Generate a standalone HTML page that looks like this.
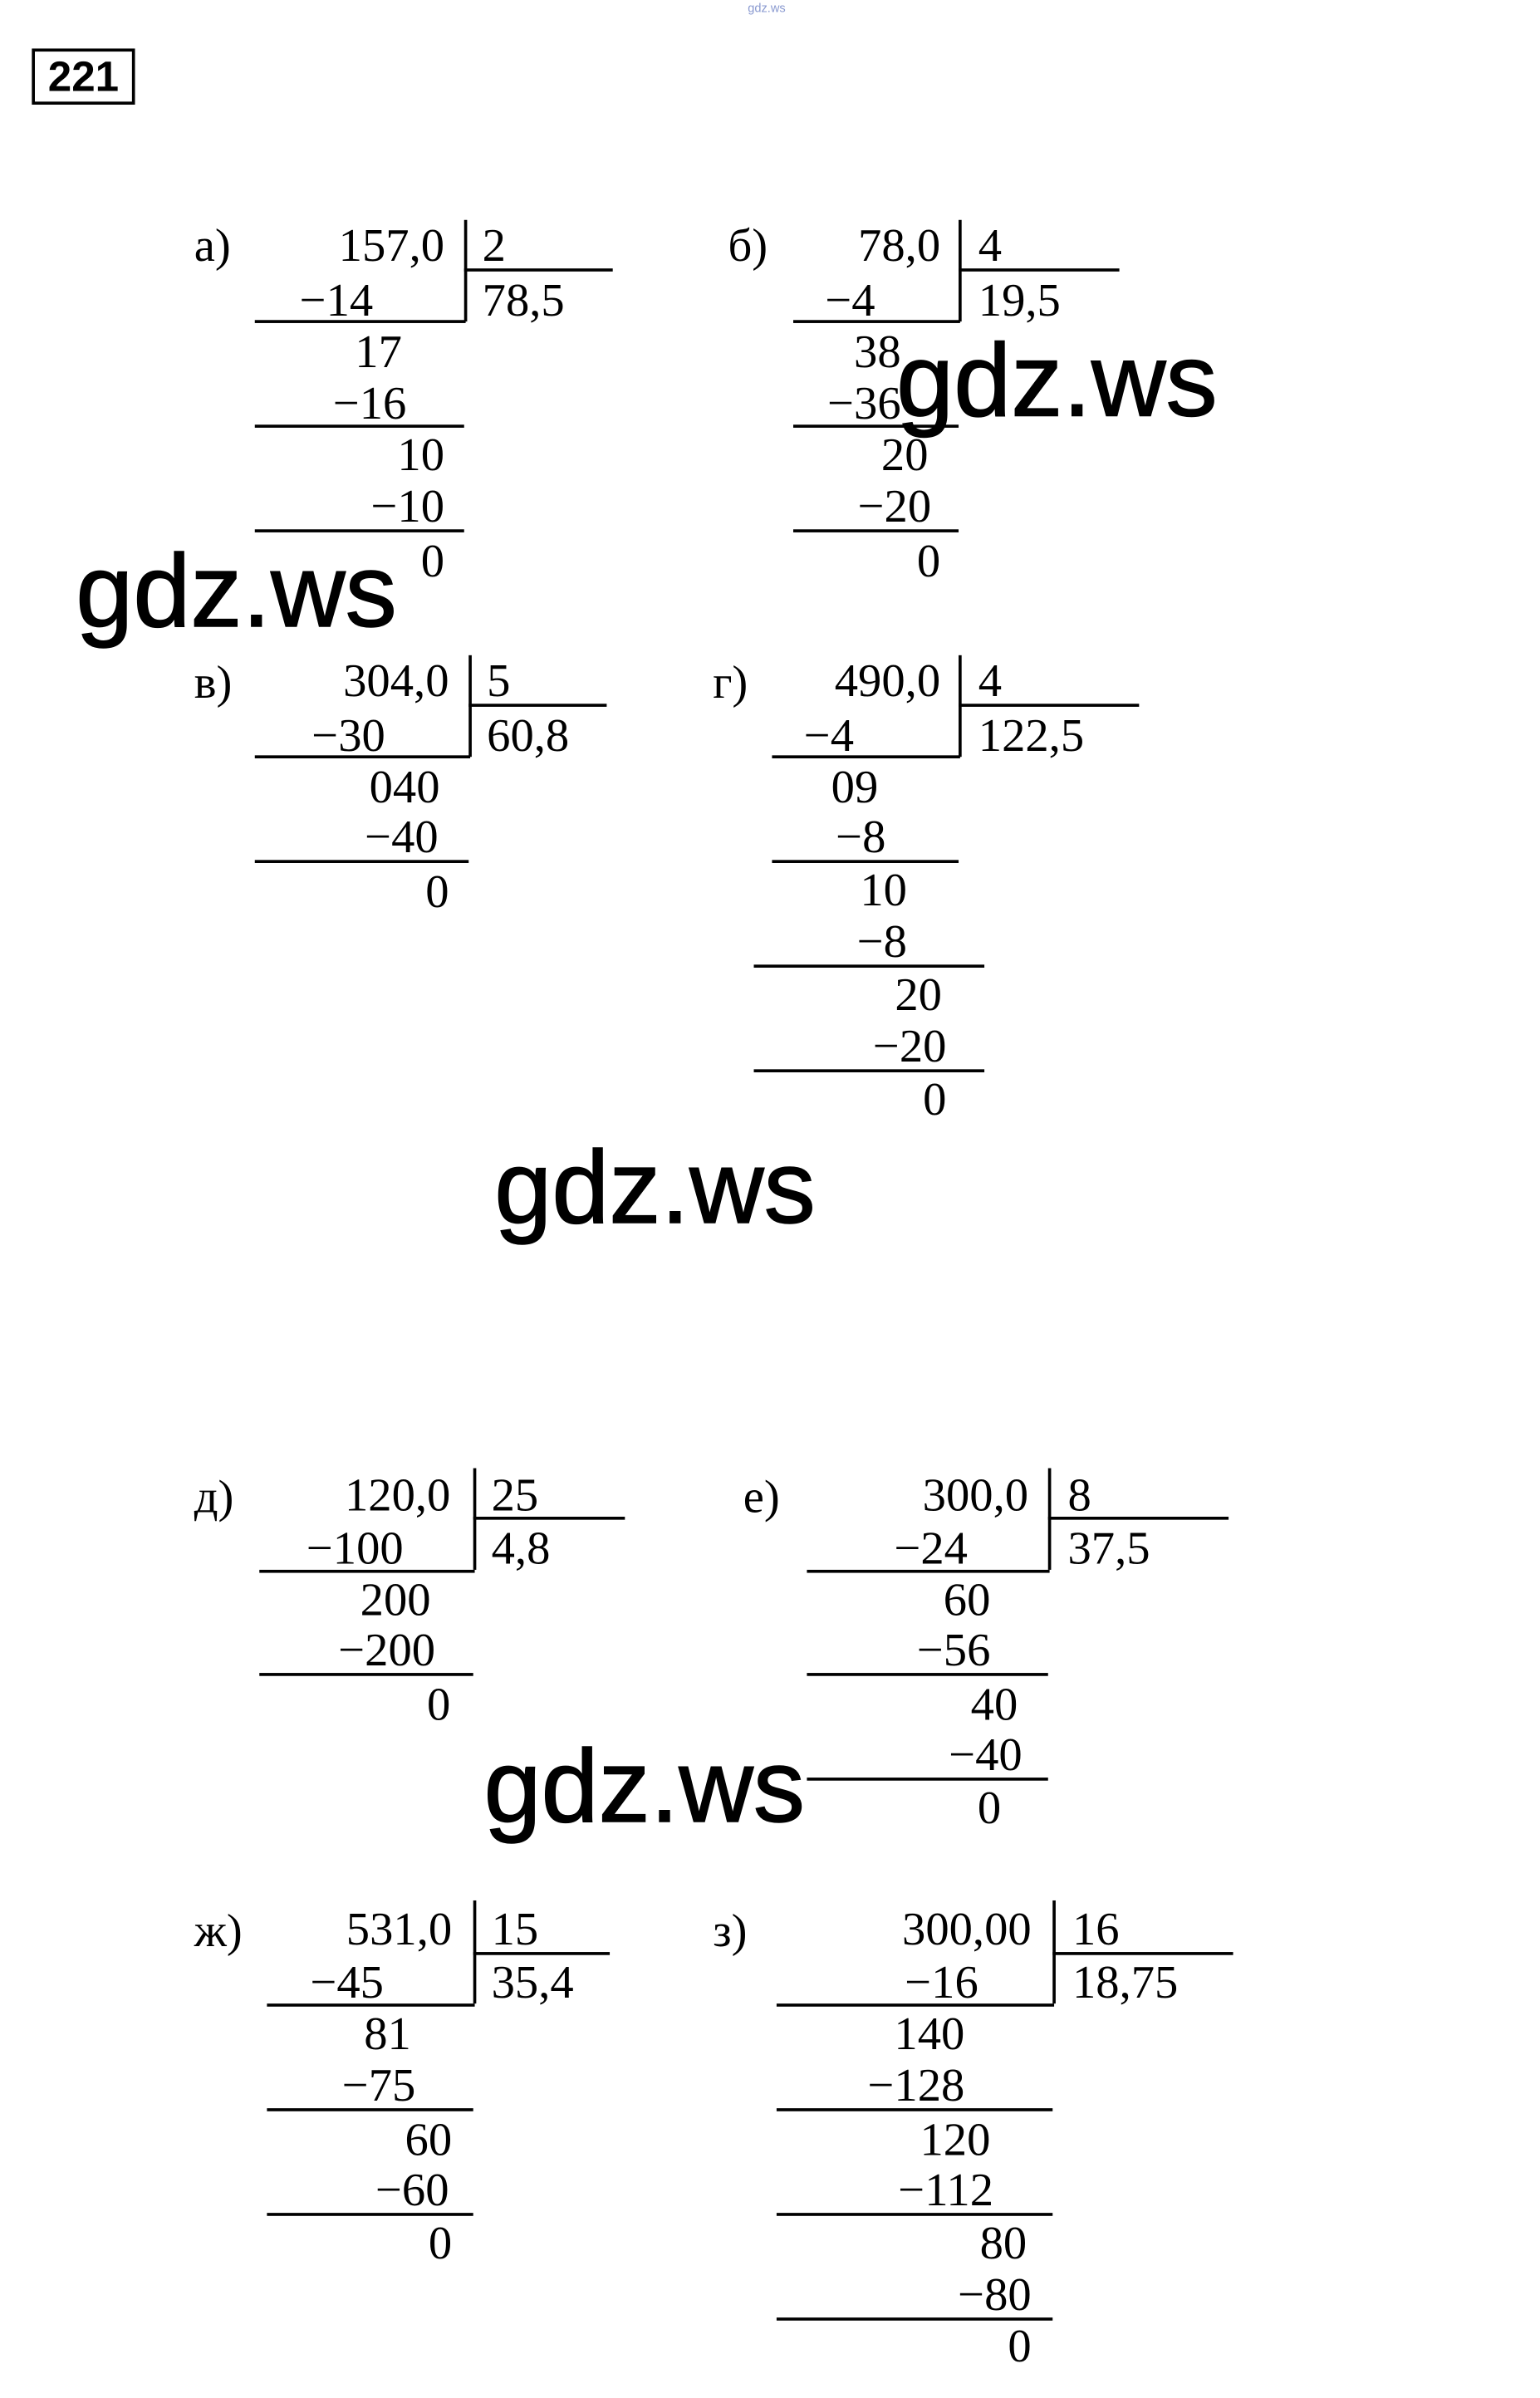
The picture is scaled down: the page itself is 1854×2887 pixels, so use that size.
<!DOCTYPE html>
<html><head><meta charset="utf-8">
<style>
html,body{margin:0;padding:0;background:#fff;}
body{width:1854px;height:2863px;overflow:hidden;position:relative;}
#c{position:absolute;left:0;top:0;width:1024px;height:1581px;transform:scale(1.826);transform-origin:0 0;}
.t{position:absolute;height:34px;line-height:34px;font-family:"Liberation Serif","DejaVu Serif",serif;font-size:31px;color:#000;white-space:nowrap;}
.r{text-align:right;}
.h{position:absolute;height:1.8px;background:#000;}
.v{position:absolute;width:1.8px;background:#000;}
.w{position:absolute;font-family:"Liberation Sans","DejaVu Sans",sans-serif;font-size:68px;line-height:80px;height:80px;color:#000;white-space:nowrap;-webkit-text-stroke:0.8px #000;}
</style></head><body><div id="c">

<div style="position:absolute;left:493px;top:1px;font:8px 'Liberation Sans',sans-serif;color:#8a9ad0;">gdz.ws</div>
<div style="position:absolute;left:21px;top:32px;width:64px;height:33px;border:2px solid #000;font:bold 28px/33px 'Liberation Sans',sans-serif;text-align:center;">221</div>

<!-- а -->
<div class="t" style="left:128px;top:145px">а)</div>
<div class="t r" style="right:731px;top:145px">157,0</div>
<div class="v" style="left:306px;top:145px;height:67px"></div>
<div class="t" style="left:318px;top:145px">2</div>
<div class="h" style="left:306px;top:177px;width:98px"></div>
<div class="t" style="left:318px;top:181px">78,5</div>
<div class="t r" style="right:778px;top:181px">−14</div>
<div class="h" style="left:168px;top:211px;width:139px"></div>
<div class="t r" style="right:759px;top:215px">17</div>
<div class="t r" style="right:756px;top:249px">−16</div>
<div class="h" style="left:168px;top:280px;width:138px"></div>
<div class="t r" style="right:731px;top:283px">10</div>
<div class="t r" style="right:731px;top:317px">−10</div>
<div class="h" style="left:168px;top:349px;width:138px"></div>
<div class="t r" style="right:731px;top:353px">0</div>

<!-- б -->
<div class="t" style="left:480px;top:145px">б)</div>
<div class="t r" style="right:404px;top:145px">78,0</div>
<div class="v" style="left:632px;top:145px;height:67px"></div>
<div class="t" style="left:645px;top:145px">4</div>
<div class="h" style="left:632px;top:177px;width:106px"></div>
<div class="t" style="left:645px;top:181px">19,5</div>
<div class="t r" style="right:447px;top:181px">−4</div>
<div class="h" style="left:523px;top:211px;width:110px"></div>
<div class="t r" style="right:430px;top:215px">38</div>
<div class="t r" style="right:430px;top:249px">−36</div>
<div class="h" style="left:523px;top:280px;width:109px"></div>
<div class="t r" style="right:412px;top:283px">20</div>
<div class="t r" style="right:410px;top:317px">−20</div>
<div class="h" style="left:523px;top:349px;width:109px"></div>
<div class="t r" style="right:404px;top:353px">0</div>

<!-- в -->
<div class="t" style="left:128px;top:433px">в)</div>
<div class="t r" style="right:728px;top:432px">304,0</div>
<div class="v" style="left:309px;top:432px;height:67px"></div>
<div class="t" style="left:321px;top:432px">5</div>
<div class="h" style="left:309px;top:464px;width:91px"></div>
<div class="t" style="left:321px;top:468px">60,8</div>
<div class="t r" style="right:770px;top:468px">−30</div>
<div class="h" style="left:168px;top:498px;width:142px"></div>
<div class="t r" style="right:734px;top:502px">040</div>
<div class="t r" style="right:735px;top:535px">−40</div>
<div class="h" style="left:168px;top:567px;width:141px"></div>
<div class="t r" style="right:728px;top:571px">0</div>

<!-- г -->
<div class="t" style="left:470px;top:433px">г)</div>
<div class="t r" style="right:404px;top:432px">490,0</div>
<div class="v" style="left:632px;top:432px;height:67px"></div>
<div class="t" style="left:645px;top:432px">4</div>
<div class="h" style="left:632px;top:464px;width:119px"></div>
<div class="t" style="left:645px;top:468px">122,5</div>
<div class="t r" style="right:461px;top:468px">−4</div>
<div class="h" style="left:509px;top:498px;width:124px"></div>
<div class="t r" style="right:445px;top:502px">09</div>
<div class="t r" style="right:440px;top:535px">−8</div>
<div class="h" style="left:509px;top:567px;width:123px"></div>
<div class="t r" style="right:426px;top:570px">10</div>
<div class="t r" style="right:426px;top:604px">−8</div>
<div class="h" style="left:497px;top:636px;width:152px"></div>
<div class="t r" style="right:403px;top:639px">20</div>
<div class="t r" style="right:400px;top:673px">−20</div>
<div class="h" style="left:497px;top:705px;width:152px"></div>
<div class="t r" style="right:400px;top:708px">0</div>

<!-- д -->
<div class="t" style="left:128px;top:970px">д)</div>
<div class="t r" style="right:727px;top:969px">120,0</div>
<div class="v" style="left:312px;top:968px;height:67px"></div>
<div class="t" style="left:324px;top:969px">25</div>
<div class="h" style="left:312px;top:1000px;width:100px"></div>
<div class="t" style="left:324px;top:1004px">4,8</div>
<div class="t r" style="right:758px;top:1004px">−100</div>
<div class="h" style="left:171px;top:1035px;width:142px"></div>
<div class="t r" style="right:740px;top:1038px">200</div>
<div class="t r" style="right:737px;top:1071px">−200</div>
<div class="h" style="left:171px;top:1103px;width:141px"></div>
<div class="t r" style="right:727px;top:1107px">0</div>

<!-- е -->
<div class="t" style="left:490px;top:970px">е)</div>
<div class="t r" style="right:346px;top:969px">300,0</div>
<div class="v" style="left:691px;top:968px;height:67px"></div>
<div class="t" style="left:704px;top:969px">8</div>
<div class="h" style="left:691px;top:1000px;width:119px"></div>
<div class="t" style="left:704px;top:1004px">37,5</div>
<div class="t r" style="right:386px;top:1004px">−24</div>
<div class="h" style="left:532px;top:1035px;width:160px"></div>
<div class="t r" style="right:371px;top:1038px">60</div>
<div class="t r" style="right:371px;top:1071px">−56</div>
<div class="h" style="left:532px;top:1103px;width:159px"></div>
<div class="t r" style="right:353px;top:1107px">40</div>
<div class="t r" style="right:350px;top:1140px">−40</div>
<div class="h" style="left:532px;top:1172px;width:159px"></div>
<div class="t r" style="right:364px;top:1175px">0</div>

<!-- ж -->
<div class="t" style="left:128px;top:1256px">ж)</div>
<div class="t r" style="right:726px;top:1255px">531,0</div>
<div class="v" style="left:312px;top:1253px;height:68px"></div>
<div class="t" style="left:324px;top:1255px">15</div>
<div class="h" style="left:312px;top:1287px;width:90px"></div>
<div class="t" style="left:324px;top:1290px">35,4</div>
<div class="t r" style="right:771px;top:1290px">−45</div>
<div class="h" style="left:176px;top:1321px;width:137px"></div>
<div class="t r" style="right:753px;top:1324px">81</div>
<div class="t r" style="right:750px;top:1358px">−75</div>
<div class="h" style="left:176px;top:1390px;width:136px"></div>
<div class="t r" style="right:726px;top:1394px">60</div>
<div class="t r" style="right:728px;top:1427px">−60</div>
<div class="h" style="left:176px;top:1459px;width:136px"></div>
<div class="t r" style="right:726px;top:1462px">0</div>

<!-- з -->
<div class="t" style="left:470px;top:1256px">з)</div>
<div class="t r" style="right:344px;top:1255px">300,00</div>
<div class="v" style="left:694px;top:1253px;height:68px"></div>
<div class="t" style="left:707px;top:1255px">16</div>
<div class="h" style="left:694px;top:1287px;width:119px"></div>
<div class="t" style="left:707px;top:1290px">18,75</div>
<div class="t r" style="right:379px;top:1290px">−16</div>
<div class="h" style="left:512px;top:1321px;width:183px"></div>
<div class="t r" style="right:388px;top:1324px">140</div>
<div class="t r" style="right:388px;top:1358px">−128</div>
<div class="h" style="left:512px;top:1390px;width:182px"></div>
<div class="t r" style="right:371px;top:1394px">120</div>
<div class="t r" style="right:369px;top:1427px">−112</div>
<div class="h" style="left:512px;top:1459px;width:182px"></div>
<div class="t r" style="right:347px;top:1462px">80</div>
<div class="t r" style="right:344px;top:1496px">−80</div>
<div class="h" style="left:512px;top:1528px;width:182px"></div>
<div class="t r" style="right:344px;top:1530px">0</div>

<!-- watermarks -->
<div class="w" style="left:50px;top:350px">gdz.ws</div>
<div class="w" style="left:591px;top:211px">gdz.ws</div>
<div class="w" style="left:326px;top:743px">gdz.ws</div>
<div class="w" style="left:319px;top:1138px">gdz.ws</div>

</div></body></html>
